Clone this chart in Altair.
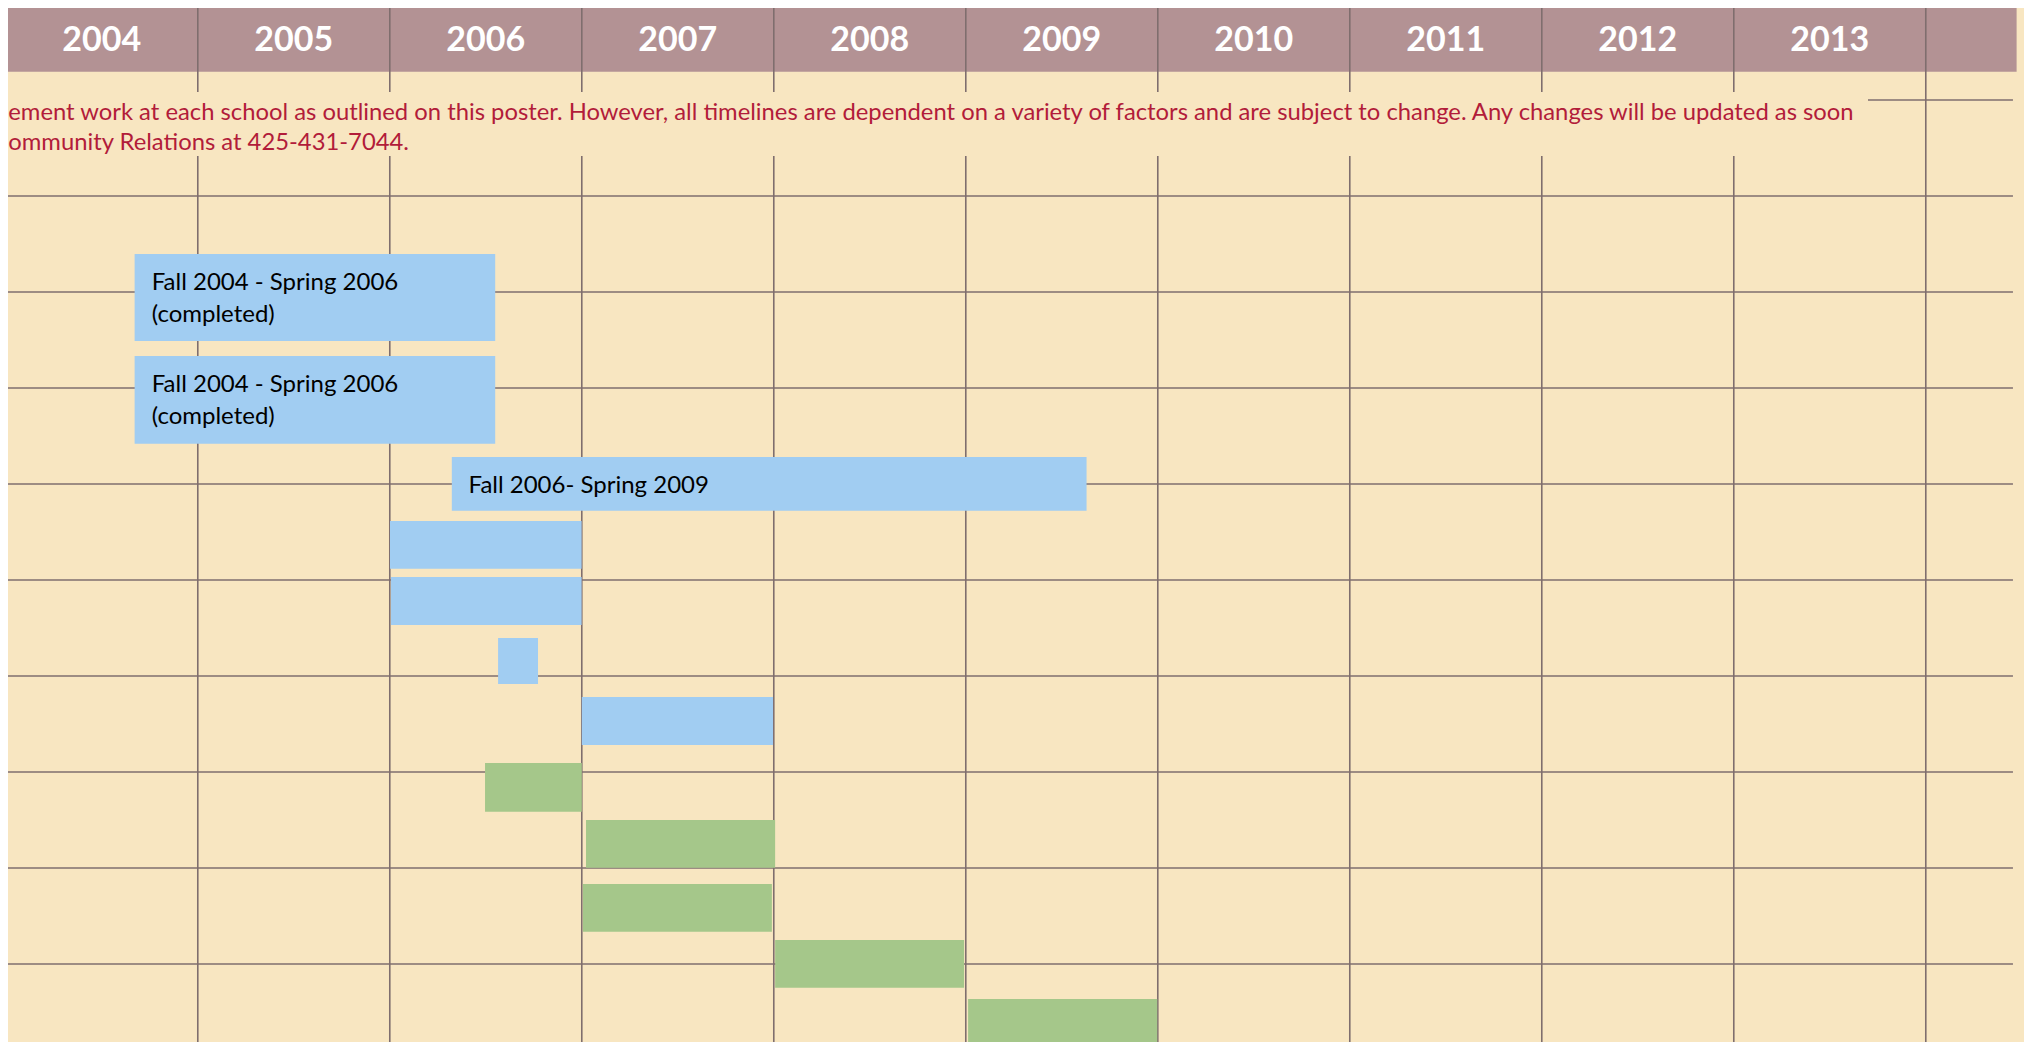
import altair as alt
import pandas as pd

# ---- data read from the poster ----
header_years = [2004, 2005, 2006, 2007, 2008, 2009, 2010, 2011, 2012, 2013]
grid_years = [2004, 2005, 2006, 2007, 2008, 2009, 2010, 2011, 2012, 2013, 2014]
grid_rows = [0, 1, 2, 3, 4, 5, 6, 7, 8]

# bars: start / end (fractional year) and top / bottom (row units)
bar_start = [2004.671, 2004.671, 2006.323, 2006.001, 2006.006, 2006.564, 2007.000, 2003.500,
             2006.496, 2007.022, 2007.006, 2008.007, 2009.012]
bar_end = [2006.549, 2006.549, 2009.629, 2006.999, 2006.999, 2006.772, 2007.996, 2003.975,
           2007.000, 2008.007, 2007.990, 2008.991, 2009.997]
bar_top = [0.604, 1.667, 2.719, 3.385, 3.969, 4.604, 5.219, 5.240,
           5.906, 6.500, 7.167, 7.750, 8.365]
bar_bottom = [1.510, 2.580, 3.278, 3.882, 4.469, 5.083, 5.719, 5.736,
              6.414, 6.997, 7.664, 8.247, 8.861]
bar_kind = ["blue"] * 8 + ["green"] * 5

label_text = ["Fall 2004 - Spring 2006", "(completed)",
              "Fall 2004 - Spring 2006", "(completed)",
              "Fall 2006- Spring 2009"]
label_year = [2004.760, 2004.760, 2004.760, 2004.760, 2006.410]
label_row = [0.979, 1.3125, 2.0417, 2.375, 3.094]

note_lines = [
    "ement work at each school as outlined on this poster. However, all timelines are dependent on a variety of factors and are subject to change. Any changes will be updated as soon",
    "ommunity Relations at 425-431-7044.",
]
note_year = [2004.013, 2004.013]
note_row = [-0.7917, -0.4792]

# ---- styling ----
BG = "#F8E6C1"
HEADER = "#B39294"
LINE = "#7F6E6E"
BLUE = "#A1CDF2"
GREEN = "#A5C78A"
RED = "#B21C3A"
FONT = "Lato"

W, H = 2016, 1034
xs = alt.Scale(domain=[2004.0115, 2014.5115], nice=False, zero=False)
ys = alt.Scale(domain=[-1.9583, 8.8125], nice=False, zero=False, reverse=True)

# header band
header_df = pd.DataFrame({"x": [2003.9], "x2": [2014.473], "y": [-1.979], "y2": [-1.2948]})
header = alt.Chart(header_df).mark_rect(color=HEADER, clip=True).encode(
    x=alt.X("x:Q", scale=xs, axis=None), x2="x2:Q",
    y=alt.Y("y:Q", scale=ys, axis=None), y2="y2:Q")

# vertical lines (with a gap behind the note text, except the last one)
vrows = []
for yr in grid_years:
    if yr == grid_years[-1]:
        vrows.append({"x": yr, "y": -1.979, "y2": 9.5})
    else:
        vrows.append({"x": yr, "y": -1.979, "y2": -1.0833})
        vrows.append({"x": yr, "y": -0.4167, "y2": 9.5})
vlines = alt.Chart(pd.DataFrame(vrows)).mark_rule(color=LINE, strokeWidth=1.6, clip=True).encode(
    x=alt.X("x:Q", scale=xs, axis=None),
    y=alt.Y("y:Q", scale=ys, axis=None), y2="y2:Q")

# horizontal lines
hrows = [{"y": r, "x": 2004.0, "x2": 2014.454} for r in grid_rows]
hrows.append({"y": -1.0, "x": 2013.699, "x2": 2014.454})
hlines = alt.Chart(pd.DataFrame(hrows)).mark_rule(color=LINE, strokeWidth=1.6, clip=True).encode(
    x=alt.X("x:Q", scale=xs, axis=None), x2="x2:Q",
    y=alt.Y("y:Q", scale=ys, axis=None))

# bars
bars_df = pd.DataFrame({"start": bar_start, "end": bar_end, "top": bar_top,
                        "bottom": bar_bottom, "kind": bar_kind})
bars = alt.Chart(bars_df).mark_rect(clip=True).encode(
    x=alt.X("start:Q", scale=xs, axis=None), x2="end:Q",
    y=alt.Y("top:Q", scale=ys, axis=None), y2="bottom:Q",
    color=alt.Color("kind:N", scale=alt.Scale(domain=["blue", "green"], range=[BLUE, GREEN]), legend=None))

# header years
years_df = pd.DataFrame({"yr": [y + 0.5 for y in header_years], "label": [str(y) for y in header_years],
                         "row": [-1.5135] * len(header_years)})
years_text = alt.Chart(years_df).mark_text(
    color="white", font=FONT, fontSize=34, fontWeight="bold", align="center", baseline="alphabetic"
).encode(x=alt.X("yr:Q", scale=xs, axis=None), y=alt.Y("row:Q", scale=ys, axis=None), text="label:N")

# note text
note_df = pd.DataFrame({"x": note_year, "y": note_row, "t": note_lines})
note = alt.Chart(note_df).mark_text(
    color=RED, font=FONT, fontSize=23.8, align="left", baseline="alphabetic"
).encode(x=alt.X("x:Q", scale=xs, axis=None), y=alt.Y("y:Q", scale=ys, axis=None), text="t:N")

# bar labels
lab_df = pd.DataFrame({"x": label_year, "y": label_row, "t": label_text})
labels = alt.Chart(lab_df).mark_text(
    color="black", font=FONT, fontSize=24, align="left", baseline="alphabetic"
).encode(x=alt.X("x:Q", scale=xs, axis=None), y=alt.Y("y:Q", scale=ys, axis=None), text="t:N")

chart = alt.layer(header, vlines, hlines, bars, years_text, note, labels).properties(
    width=W, height=H, background=BG, padding=0,
    autosize=alt.AutoSizeParams(type="none"),
).configure_view(stroke=None)

chart.save("out.html", embed_options={"renderer": "svg", "actions": False})
